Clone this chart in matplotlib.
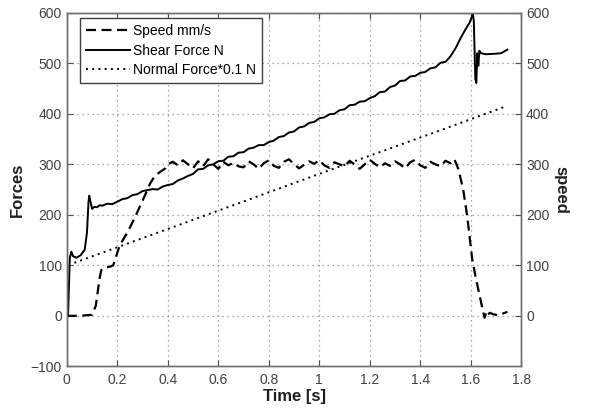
import matplotlib.pyplot as plt

plt.rcParams['font.family'] = ['Liberation Sans', 'DejaVu Sans']

# shear force [N]
t_shear = [0, 0.005, 0.012, 0.018, 0.025, 0.038, 0.055, 0.071, 0.08, 0.086, 0.089, 0.093,
           0.1, 0.11, 0.12, 0.13, 0.14, 0.16, 0.18,
           0.20, 0.22, 0.24, 0.26, 0.28, 0.30, 0.32, 0.34, 0.36, 0.38, 0.40, 0.42, 0.44,
           0.46, 0.48, 0.50, 0.52, 0.54, 0.56, 0.58, 0.60, 0.62, 0.64, 0.66, 0.68, 0.70,
           0.72, 0.74, 0.76, 0.78, 0.80, 0.82, 0.84, 0.86, 0.88, 0.90, 0.92, 0.94, 0.96,
           0.98, 1.00, 1.02, 1.04, 1.06, 1.08, 1.10, 1.12, 1.14, 1.16, 1.18, 1.20, 1.22,
           1.24, 1.26, 1.28, 1.30, 1.32, 1.34, 1.36, 1.38, 1.40, 1.42, 1.44, 1.46, 1.48,
           1.50, 1.52,
           1.54, 1.56, 1.58, 1.595, 1.605, 1.608, 1.612, 1.618, 1.622, 1.626, 1.63,
           1.634, 1.64, 1.66, 1.7, 1.72, 1.745]
shear = [0, 0, 115, 127, 118, 115, 120, 131, 165, 225, 238, 228,
         212, 216, 215, 219, 218, 222, 221,
         226, 231, 233, 239, 241, 247, 249, 251, 250, 256, 259, 261, 268,
         272, 277, 281, 290, 291, 298, 300, 306, 307, 315, 316, 323, 324,
         331, 333, 338, 338, 344, 347, 354, 356, 363, 365, 373, 375, 382,
         384, 391, 393, 399, 400, 407, 409, 417, 418, 424, 425, 431, 435,
         443, 444, 453, 456, 465, 466, 474, 475, 481, 483, 490, 492, 501,
         503, 514,
         530, 550, 568, 580, 593, 598, 585, 470, 461, 520, 495,
         525, 520, 518, 519, 520, 527]

# normal force scaled by 0.1 [N]
t_normal = [0.03, 0.5, 1.0, 1.5, 1.74]
normal = [105, 190, 281, 371, 415]

# speed [mm/s]
t_speed = [0, 0.05, 0.1, 0.115, 0.13, 0.137, 0.15, 0.175, 0.184, 0.2, 0.21, 0.24, 0.27,
           0.3, 0.316, 0.33, 0.35, 0.37, 0.39, 0.4, 0.42, 0.44, 0.46, 0.48, 0.5, 0.52,
           0.54, 0.56, 0.58, 0.6, 0.62, 0.64, 0.66, 0.68, 0.7, 0.72, 0.74, 0.76, 0.78,
           0.8, 0.82, 0.84, 0.86, 0.88, 0.9, 0.92, 0.94, 0.96, 0.98, 1.0, 1.02, 1.04,
           1.06, 1.08, 1.1, 1.12, 1.14, 1.16, 1.18, 1.2, 1.22, 1.24, 1.26, 1.28, 1.3,
           1.32, 1.34, 1.36, 1.38, 1.4, 1.42, 1.44, 1.46, 1.48, 1.5, 1.52, 1.535,
           1.545, 1.552, 1.57, 1.586, 1.606, 1.62, 1.635, 1.65, 1.655, 1.662, 1.668,
           1.675, 1.69, 1.71, 1.725, 1.745]
speed = [0, 0, 2, 20, 75, 91, 95, 98, 100, 125, 140, 165, 195,
         228, 246, 262, 278, 285, 292, 300, 305, 298, 308, 300, 292, 306,
         296, 310, 300, 291, 305, 298, 303, 296, 294, 306, 300, 291, 302,
         308, 297, 293, 305, 310, 300, 292, 299, 306, 301, 308, 298, 293,
         304, 300, 296, 307, 300, 291, 300, 309, 301, 294, 302, 297, 306,
         300, 292, 304, 309, 298, 293, 305, 300, 296, 307, 302, 310,
         298, 289, 250, 197, 111, 75, 40, 6, -4, 8, 2,
         6, 3, 1, 4, 8]

x_ticks = [0, 0.2, 0.4, 0.6, 0.8, 1, 1.2, 1.4, 1.6, 1.8]
x_labels = ['0', '0.2', '0.4', '0.6', '0.8', '1', '1.2', '1.4', '1.6', '1.8']
left_ticks = [-100, 0, 100, 200, 300, 400, 500, 600]
right_ticks = [0, 100, 200, 300, 400, 500, 600]

fig = plt.figure(figsize=(5.91, 4.13), dpi=100)
ax = fig.add_axes([0.113, 0.113, 0.769, 0.856])
ax2 = ax.twinx()

h_shear, = ax.plot(t_shear, shear, color='black', lw=1.4, label='Shear Force N')
h_normal, = ax.plot(t_normal, normal, color='black', lw=1.4, ls=(0, (1, 2.2)),
                    label='Normal Force*0.1 N')
h_speed, = ax2.plot(t_speed, speed, color='black', lw=1.6, ls=(0, (4.5, 2.5)),
                    label='Speed mm/s')

ax.set_xlim(0, 1.8)
ax.set_ylim(-100, 600)
ax2.set_ylim(-100, 600)
ax.set_xticks(x_ticks)
ax.set_xticklabels(x_labels)
ax.set_yticks(left_ticks)
ax2.set_yticks(right_ticks)

ax.grid(True, color='#8c8c8c', ls=(0, (1, 3)), lw=0.9)

for a in (ax, ax2):
    for s in a.spines.values():
        s.set_color('#707070')
        s.set_linewidth(1.0)
    a.tick_params(direction='in', length=4, color='#505050', labelcolor='#404040',
                  labelsize=10, width=0.8)
ax.tick_params(top=True)
ax.tick_params(axis='x', pad=5)

ax.set_xlabel('Time [s]', fontsize=12, fontweight='bold', color='#202020', labelpad=1)
ax.set_ylabel('Forces', fontsize=12, fontweight='bold', color='#202020', labelpad=4)
ax2.set_ylabel('speed', fontsize=12, fontweight='bold', color='#202020',
               rotation=-90, labelpad=14)

leg = ax2.legend(handles=[h_speed, h_shear, h_normal], loc='upper left',
                 bbox_to_anchor=(0.028, 0.985), borderaxespad=0, fontsize=10,
                 fancybox=False, framealpha=1, edgecolor='#404040', handlelength=3.2,
                 borderpad=0.45, labelspacing=0.38, handletextpad=0.2)
leg.get_frame().set_linewidth(1.0)

fig.savefig('out.png', dpi=100)
